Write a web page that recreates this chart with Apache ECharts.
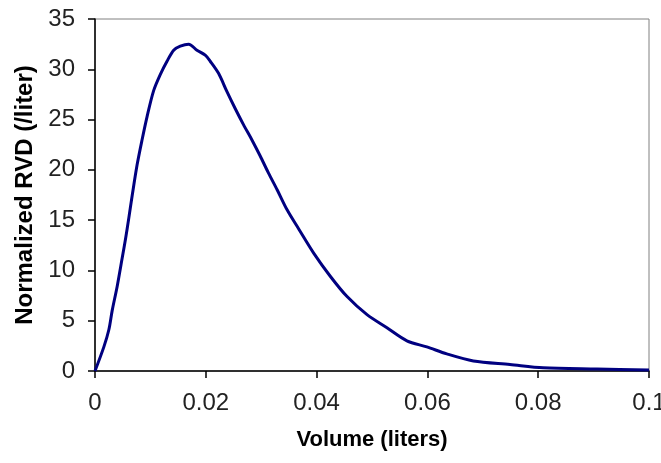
<!DOCTYPE html>
<html>
<head>
<meta charset="utf-8">
<script src="https://cdn.jsdelivr.net/npm/echarts@6/dist/echarts.min.js"></script>
<style>
html,body{margin:0;padding:0;background:#fff;}
#chart{width:661px;height:463px;}
</style>
</head>
<body>
<div id="chart"></div>
<script>
var volume = [0, 0.0016, 0.0025, 0.0031, 0.004, 0.0049, 0.0055, 0.0061, 0.0067, 0.0076, 0.0085, 0.0094, 0.0106, 0.0118, 0.013, 0.0142, 0.0154, 0.0169, 0.0184, 0.0199, 0.0208, 0.0223, 0.0238, 0.0253, 0.0268, 0.0284, 0.0298, 0.0313, 0.0329, 0.0347, 0.0368, 0.0395, 0.0425, 0.0455, 0.0491, 0.0527, 0.0563, 0.0599, 0.0635, 0.0683, 0.0749, 0.0809, 0.0906, 0.1];
var rvd = [0, 2.4, 4.1, 6.0, 8.4, 11.2, 13.1, 15.2, 17.4, 20.5, 23.0, 25.3, 27.9, 29.5, 30.8, 31.9, 32.3, 32.5, 31.9, 31.4, 30.8, 29.6, 27.8, 26.1, 24.5, 22.9, 21.4, 19.7, 18.0, 16.0, 14.1, 11.7, 9.4, 7.4, 5.6, 4.3, 3.0, 2.4, 1.7, 1.0, 0.65, 0.32, 0.2, 0.1];
var xTickLabels = ['0', '0.02', '0.04', '0.06', '0.08', '0.1'];
var yTickLabels = ['0', '5', '10', '15', '20', '25', '30', '35'];

var points = volume.map(function (v, i) { return [v, rvd[i]]; });
var chart = echarts.init(document.getElementById('chart'));
var fontFam = 'Liberation Sans, Arial, sans-serif';
chart.setOption({
  animation: false,
  backgroundColor: '#ffffff',
  grid: {left: 95, right: 12, top: 19, bottom: 92, containLabel: false, outerBoundsMode: 'none',
    show: true, borderColor: '#808080', borderWidth: 1, backgroundColor: 'transparent'},
  xAxis: {
    type: 'value', min: 0, max: 0.1, interval: 0.02,
    name: 'Volume (liters)', nameLocation: 'middle', nameGap: 58,
    nameTextStyle: {fontFamily: fontFam, fontWeight: 'bold', fontSize: 22, color: '#000'},
    axisLine: {show: true, lineStyle: {color: '#000', width: 1.5}},
    axisTick: {show: true, inside: false, length: 7, lineStyle: {color: '#000', width: 1.5}},
    splitLine: {show: false},
    axisLabel: {margin: 20, fontFamily: fontFam, fontSize: 24, color: '#222',
      formatter: function (v) { return xTickLabels[Math.round(v / 0.02)]; }}
  },
  yAxis: {
    type: 'value', min: 0, max: 35, interval: 5,
    name: 'Normalized RVD (/liter)', nameLocation: 'middle', nameGap: 58, nameRotate: 90,
    nameTextStyle: {fontFamily: fontFam, fontWeight: 'bold', fontSize: 24, color: '#000'},
    axisLine: {show: true, lineStyle: {color: '#000', width: 1.5}},
    axisTick: {show: true, inside: false, length: 7, lineStyle: {color: '#000', width: 1.5}},
    splitLine: {show: false},
    axisLabel: {margin: 20, fontFamily: fontFam, fontSize: 24, color: '#222',
      formatter: function (v) { return yTickLabels[Math.round(v / 5)]; }}
  },
  series: [{
    type: 'line', data: points, smooth: 0.3, showSymbol: false,
    lineStyle: {color: '#000080', width: 3}
  }]
});
</script>
</body>
</html>
